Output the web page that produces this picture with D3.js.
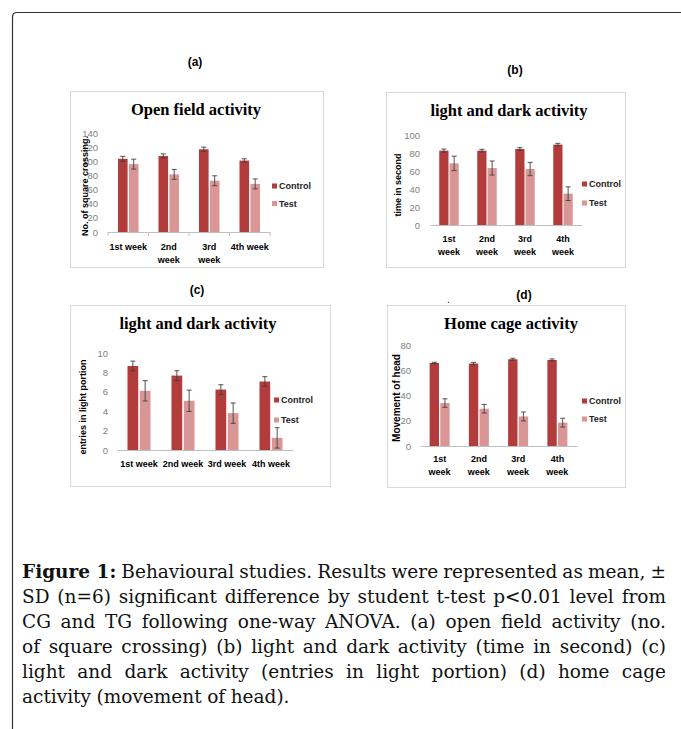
<!DOCTYPE html>
<html>
<head>
<meta charset="utf-8">
<script src="https://cdn.jsdelivr.net/npm/d3@7"></script>
<style>
  body { margin: 0; background: #fff; }
  svg { display: block; }
</style>
</head>
<body>
<svg id="fig" width="681" height="729"></svg>
<script>
// ---- data ----
const seriesNames = ["Control", "Test"];
const weeksA = ["1st week", "2nd|week", "3rd|week", "4th week"];
const weeksWrapped = ["1st|week", "2nd|week", "3rd|week", "4th|week"];
const weeksC = ["1st week", "2nd week", "3rd week", "4th week"];

// (a) open field activity
const squareControl = [103.5, 107.5, 117, 101];
const squareControlSd = [3.5, 3, 3, 2.5];
const squareTest = [96, 81.5, 72.5, 68];
const squareTestSd = [7, 7, 7, 7];

// (b) light and dark, time in second
const timeControl = [82.6, 82.6, 84.4, 89.3];
const timeControlSd = [1.8, 1.5, 1.5, 1.4];
const timeTest = [68.5, 63.3, 62.2, 34.8];
const timeTestSd = [8, 7.8, 7.4, 7.6];

// (c) light and dark, entries in light portion
const entriesControl = [8.66, 7.67, 6.23, 7.06];
const entriesControlSd = [0.5, 0.5, 0.5, 0.5];
const entriesTest = [6.1, 5.07, 3.8, 1.25];
const entriesTestSd = [1.05, 1.1, 1.05, 1.05];

// (d) home cage, movement of head
const headControl = [65.8, 65.3, 68.7, 68.2];
const headControlSd = [0.5, 0.9, 0.8, 0.8];
const headTest = [34, 29.5, 23.4, 18.5];
const headTestSd = [3.4, 3.4, 3.5, 3.5];

const panelLetters = ["(a)", "(b)", "(c)", "(d)"];

const captionLines = [
  "Behavioural studies. Results were represented as mean, \u00b1",
  "SD (n=6) significant difference by student t-test p<0.01 level from",
  "CG and TG following one-way ANOVA. (a) open field activity (no.",
  "of square crossing) (b) light and dark activity (time in second) (c)",
  "light and dark activity (entries in light portion) (d) home cage",
  "activity (movement of head)."
];

const colors = { Control: "#b23b3b", Test: "#d99694" };
const sans = "'Liberation Sans', Arial, sans-serif";
const serif = "'Liberation Serif', 'Times New Roman', serif";
const capSerif = "'DejaVu Serif', serif";

const svg = d3.select("#fig");

// outer frame (rounded top-left corner)
svg.append("path")
  .attr("d", "M12.5,729 V17 Q12.5,12.5 17,12.5 H681")
  .attr("fill", "none")
  .attr("stroke", "#333")
  .attr("stroke-width", 1.2);

function drawPanel(p) {
  const g = svg.append("g");

  g.append("rect")
    .attr("x", p.box[0] + 0.5).attr("y", p.box[1] + 0.5)
    .attr("width", p.box[2] - p.box[0]).attr("height", p.box[3] - p.box[1])
    .attr("fill", "#fff").attr("stroke", "#d9d9d9");

  const x = d3.scaleBand().domain(p.cats).range([p.x0, p.x1]);
  const xs = d3.scaleBand().domain(seriesNames)
    .range([-p.group / 2, p.group / 2]).paddingInner(p.gap);
  const y = d3.scaleLinear().domain([0, p.max]).range([p.y0, p.yTop]);

  // y tick labels
  const ya = g.append("g")
    .attr("transform", `translate(${p.labelRight},0)`)
    .call(d3.axisLeft(y).tickValues(d3.range(0, p.max + p.step / 2, p.step))
      .tickSize(0).tickPadding(0));
  ya.select(".domain").remove();
  ya.selectAll("text")
    .attr("fill", "#808080")
    .style("font-family", sans)
    .style("font-size", "9.5px");

  // x axis
  const xa = g.append("g")
    .attr("transform", `translate(0,${p.y0})`)
    .call(d3.axisBottom(x).tickSize(0).tickSizeOuter(0));
  xa.select(".domain").attr("stroke", "#bfbfbf");
  xa.selectAll(".tick text").each(function (d) {
    const t = d3.select(this).text(null).attr("y", 0).attr("dy", null);
    d.split("|").forEach((s, i) => {
      t.append("tspan").attr("x", 0)
        .attr("y", p.catY - p.y0 + i * 12.5)
        .attr("dy", "0.35em")
        .text(s);
    });
  })
    .attr("fill", "#000")
    .style("font-family", sans)
    .style("font-size", "9px")
    .style("font-weight", "bold");

  if (p.boundaryTicks) {
    g.selectAll(".bt")
      .data(d3.range(p.cats.length + 1))
      .join("line")
      .attr("x1", i => p.x0 + i * x.step()).attr("x2", i => p.x0 + i * x.step())
      .attr("y1", p.y0).attr("y2", p.y0 + 4)
      .attr("stroke", "#bfbfbf");
  }

  // bars + error bars
  const rows = [];
  p.cats.forEach((c, i) => {
    rows.push({ cat: c, s: "Control", v: p.control[i], e: p.controlSd[i] });
    rows.push({ cat: c, s: "Test", v: p.test[i], e: p.testSd[i] });
  });
  const cx = d => x(d.cat) + x.bandwidth() / 2 + xs(d.s);

  g.selectAll(".bar").data(rows).join("rect")
    .attr("x", cx)
    .attr("width", xs.bandwidth())
    .attr("y", d => y(d.v))
    .attr("height", d => p.y0 - y(d.v))
    .attr("fill", d => colors[d.s]);

  const eb = g.selectAll(".err").data(rows).join("g")
    .attr("stroke", "#404040").attr("stroke-width", 0.9);
  const mid = d => cx(d) + xs.bandwidth() / 2;
  eb.append("line")
    .attr("x1", mid).attr("x2", mid)
    .attr("y1", d => y(d.v - d.e)).attr("y2", d => y(d.v + d.e));
  [d => d.v - d.e, d => d.v + d.e].forEach(f => {
    eb.append("line")
      .attr("x1", d => mid(d) - 2.5).attr("x2", d => mid(d) + 2.5)
      .attr("y1", d => y(f(d))).attr("y2", d => y(f(d)));
  });

  // title
  g.append("text")
    .attr("x", p.title[0]).attr("y", p.title[1])
    .attr("text-anchor", "middle")
    .style("font-family", serif)
    .style("font-weight", "bold")
    .style("font-size", "16.5px")
    .text(p.titleText);

  // y title
  g.append("text")
    .attr("transform", `translate(${p.ytitle[0]},${p.ytitle[1]}) rotate(-90)`)
    .attr("text-anchor", "middle")
    .attr("dy", "0.35em")
    .style("font-family", sans)
    .style("font-weight", "bold")
    .style("font-size", p.ytitleSize + "px")
    .text(p.ytitleText);

  // legend
  const lg = g.selectAll(".lg").data(seriesNames).join("g")
    .attr("transform", (d, i) => `translate(${p.legend[0]},${p.legend[1] + i * p.legend[2]})`);
  lg.append("rect").attr("x", 0).attr("y", -2.5).attr("width", 5).attr("height", 5)
    .attr("fill", d => colors[d]);
  lg.append("text").attr("x", 7).attr("dy", "0.35em")
    .style("font-family", sans)
    .style("font-size", "9px")
    .style("font-weight", "bold")
    .attr("fill", "#222")
    .text(d => d);

  // panel letter
  svg.append("text")
    .attr("x", p.letter[0]).attr("y", p.letter[1])
    .attr("text-anchor", "middle").attr("dy", "0.35em")
    .style("font-family", sans)
    .style("font-weight", "bold")
    .style("font-size", "12px")
    .text(p.letterText);
}

drawPanel({
  box: [70, 91, 323, 267], cats: weeksA, x0: 108, x1: 270, group: 20.5, gap: 0.12,
  max: 140, step: 20, y0: 232, yTop: 133, labelRight: 98, catY: 247, boundaryTicks: true,
  control: squareControl, controlSd: squareControlSd, test: squareTest, testSd: squareTestSd,
  title: [196, 115], titleText: "Open field activity",
  ytitle: [85, 186], ytitleText: "No. of square crossing.", ytitleSize: 9,
  legend: [272, 186, 17.5], letter: [195, 62], letterText: panelLetters[0]
});

drawPanel({
  box: [386, 92, 625, 267], cats: weeksWrapped, x0: 430, x1: 582, group: 19.5, gap: 0.1,
  max: 100, step: 20, y0: 225, yTop: 135, labelRight: 420, catY: 239,
  control: timeControl, controlSd: timeControlSd, test: timeTest, testSd: timeTestSd,
  title: [509, 116], titleText: "light and dark activity",
  ytitle: [398, 185], ytitleText: "time in second", ytitleSize: 9,
  legend: [582, 184, 19], letter: [515, 70], letterText: panelLetters[1]
});

drawPanel({
  box: [70, 305, 330, 486], cats: weeksC, x0: 117, x1: 293, group: 23, gap: 0.13,
  max: 10, step: 2, y0: 450, yTop: 353, labelRight: 108, catY: 464,
  control: entriesControl, controlSd: entriesControlSd, test: entriesTest, testSd: entriesTestSd,
  title: [198, 329], titleText: "light and dark activity",
  ytitle: [83, 407], ytitleText: "entries in light portion", ytitleSize: 9,
  legend: [274, 400, 20], letter: [197, 290], letterText: panelLetters[2]
});

drawPanel({
  box: [387, 305, 625, 487], cats: weeksWrapped, x0: 420, x1: 577, group: 20, gap: 0.12,
  max: 80, step: 20, y0: 446, yTop: 345, labelRight: 411, catY: 459,
  control: headControl, controlSd: headControlSd, test: headTest, testSd: headTestSd,
  title: [511, 329], titleText: "Home cage activity",
  ytitle: [396, 398], ytitleText: "Movement of head", ytitleSize: 10,
  legend: [582, 401, 18], letter: [524, 295], letterText: panelLetters[3]
});

// stray dot above panel (d)
svg.append("text").attr("x", 447).attr("y", 303)
  .style("font-family", sans).style("font-size", "10px").text(".");

// caption, justified line by line
const capLeft = 22, capRight = 666, capTop = 578, capStep = 25;
const capFont = "18.5px";
captionLines.forEach((line, li) => {
  const words = line.split(" ");
  const items = [];
  if (li === 0) items.push({ w: "Figure 1:", bold: true });
  words.forEach(w => items.push({ w, bold: false }));
  const row = svg.append("g");
  const nodes = items.map(it => row.append("text")
    .attr("y", capTop + li * capStep)
    .style("font-family", capSerif)
    .style("font-size", capFont)
    .style("font-weight", it.bold ? "bold" : "normal")
    .attr("fill", "#111")
    .text(it.w));
  const widths = nodes.map(n => n.node().getComputedTextLength());
  const total = d3.sum(widths);
  const last = li === captionLines.length - 1;
  const space = last ? 5.5 : (capRight - capLeft - total) / (nodes.length - 1);
  let xx = capLeft;
  nodes.forEach((n, i) => { n.attr("x", xx); xx += widths[i] + space; });
});
</script>
</body>
</html>
